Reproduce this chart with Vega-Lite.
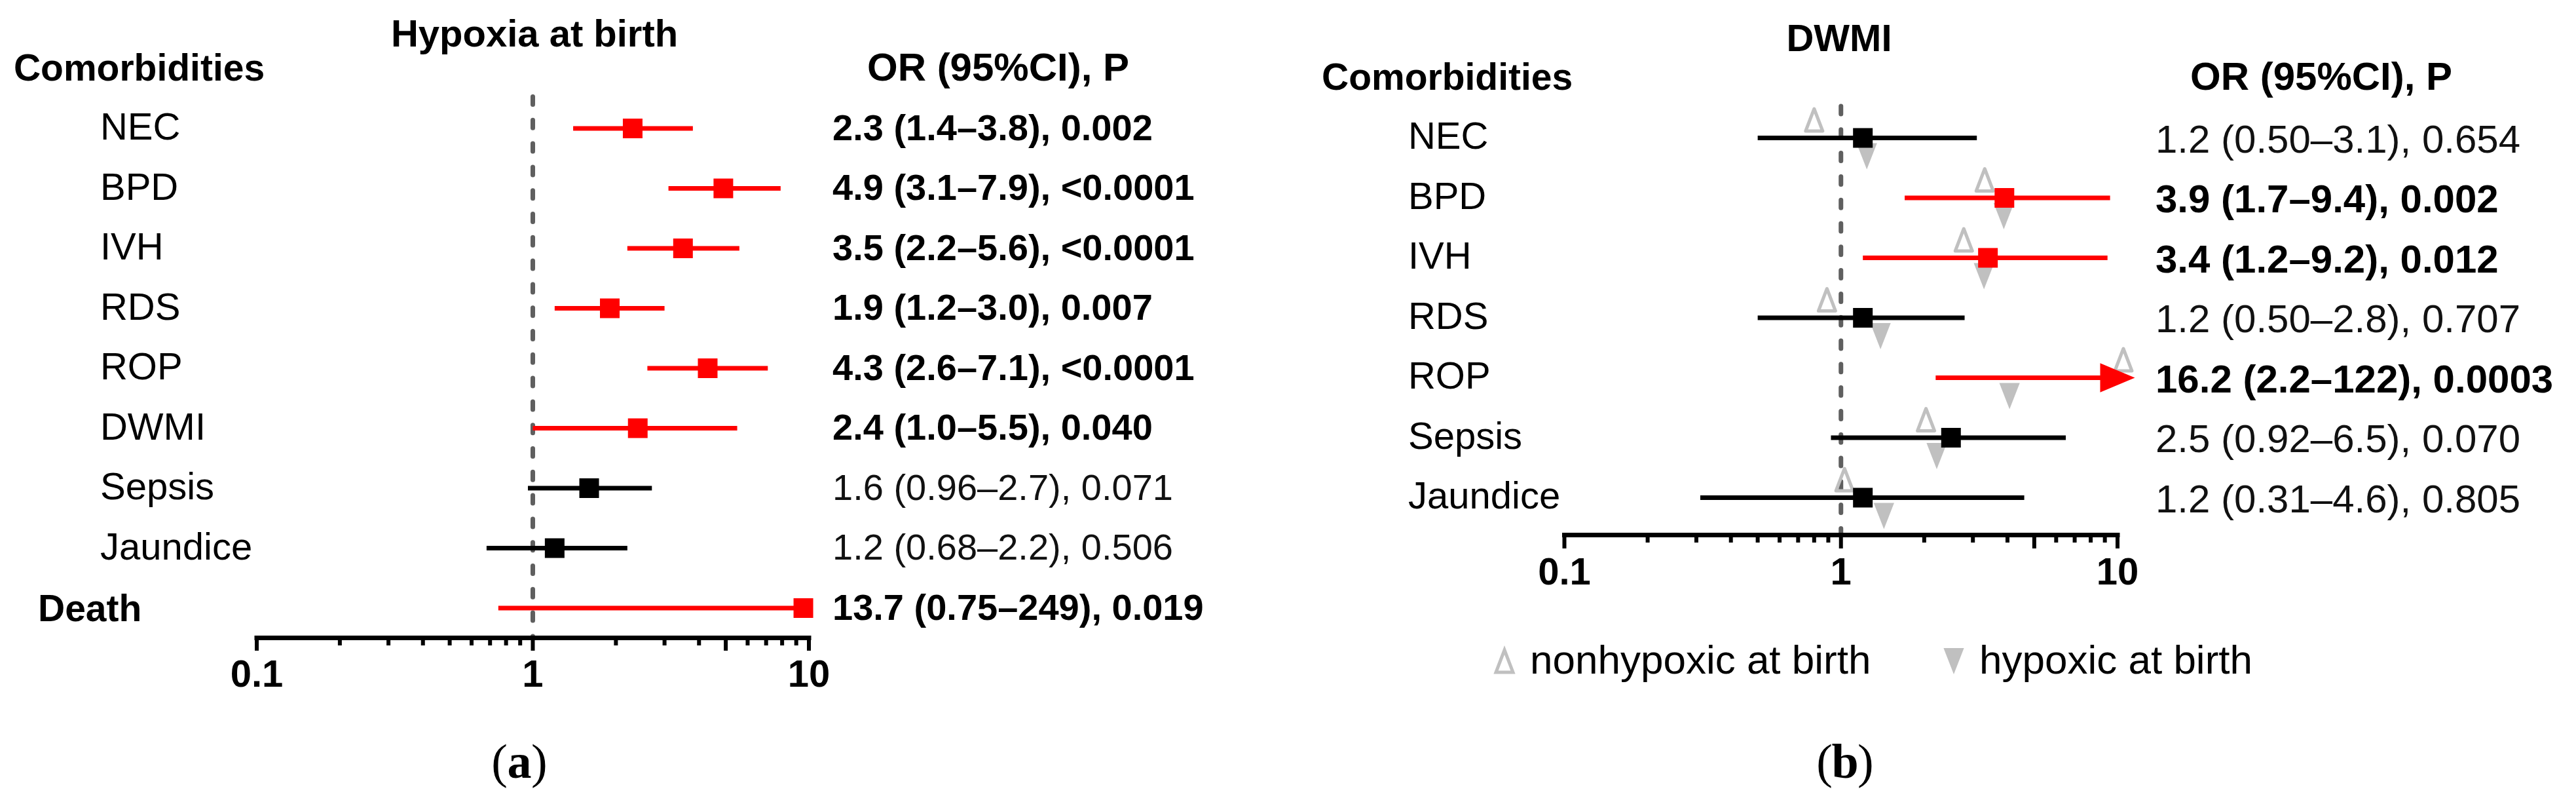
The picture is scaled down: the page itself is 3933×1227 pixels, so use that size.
{
  "$schema": "https://vega.github.io/schema/vega-lite/v6.json",
  "padding": 0,
  "spacing": 0,
  "background": "white",
  "config": {"view": {"stroke": null}, "font": "Liberation Sans", "concat": {"spacing": 0}},
  "resolve": {"scale": {"color": "independent", "shape": "independent", "fill": "independent", "stroke": "independent"}},
  "datasets": {
    "a": [
      {"label": "NEC", "row": 1, "or": 2.3, "lo": 1.4, "hi": 3.8, "or_plot": 2.3, "hi_plot": 3.8, "sig": "yes", "kind": "comorbidity", "text": "2.3 (1.4–3.8), 0.002"},
      {"label": "BPD", "row": 2, "or": 4.9, "lo": 3.1, "hi": 7.9, "or_plot": 4.9, "hi_plot": 7.9, "sig": "yes", "kind": "comorbidity", "text": "4.9 (3.1–7.9), <0.0001"},
      {"label": "IVH", "row": 3, "or": 3.5, "lo": 2.2, "hi": 5.6, "or_plot": 3.5, "hi_plot": 5.6, "sig": "yes", "kind": "comorbidity", "text": "3.5 (2.2–5.6), <0.0001"},
      {"label": "RDS", "row": 4, "or": 1.9, "lo": 1.2, "hi": 3.0, "or_plot": 1.9, "hi_plot": 3.0, "sig": "yes", "kind": "comorbidity", "text": "1.9 (1.2–3.0), 0.007"},
      {"label": "ROP", "row": 5, "or": 4.3, "lo": 2.6, "hi": 7.1, "or_plot": 4.3, "hi_plot": 7.1, "sig": "yes", "kind": "comorbidity", "text": "4.3 (2.6–7.1), <0.0001"},
      {"label": "DWMI", "row": 6, "or": 2.4, "lo": 1.0, "hi": 5.5, "or_plot": 2.4, "hi_plot": 5.5, "sig": "yes", "kind": "comorbidity", "text": "2.4 (1.0–5.5), 0.040"},
      {"label": "Sepsis", "row": 7, "or": 1.6, "lo": 0.96, "hi": 2.7, "or_plot": 1.6, "hi_plot": 2.7, "sig": "no", "kind": "comorbidity", "text": "1.6 (0.96–2.7), 0.071"},
      {"label": "Jaundice", "row": 8, "or": 1.2, "lo": 0.68, "hi": 2.2, "or_plot": 1.2, "hi_plot": 2.2, "sig": "no", "kind": "comorbidity", "text": "1.2 (0.68–2.2), 0.506"},
      {"label": "Death", "row": 9, "or": 13.7, "lo": 0.75, "hi": 249, "or_plot": 9.55, "hi_plot": 9.55, "sig": "yes", "kind": "outcome", "text": "13.7 (0.75–249), 0.019"}
    ],
    "b": [
      {"label": "NEC", "row": 1, "or": 1.2, "lo": 0.5, "hi": 3.1, "or_plot": 1.2, "hi_plot": 3.1, "sig": "no", "marker": "square", "text": "1.2 (0.50–3.1), 0.654"},
      {"label": "BPD", "row": 2, "or": 3.9, "lo": 1.7, "hi": 9.4, "or_plot": 3.9, "hi_plot": 9.4, "sig": "yes", "marker": "square", "text": "3.9 (1.7–9.4), 0.002"},
      {"label": "IVH", "row": 3, "or": 3.4, "lo": 1.2, "hi": 9.2, "or_plot": 3.4, "hi_plot": 9.2, "sig": "yes", "marker": "square", "text": "3.4 (1.2–9.2), 0.012"},
      {"label": "RDS", "row": 4, "or": 1.2, "lo": 0.5, "hi": 2.8, "or_plot": 1.2, "hi_plot": 2.8, "sig": "no", "marker": "square", "text": "1.2 (0.50–2.8), 0.707"},
      {"label": "ROP", "row": 5, "or": 16.2, "lo": 2.2, "hi": 122, "or_plot": 10, "hi_plot": 10, "sig": "yes", "marker": "arrow", "text": "16.2 (2.2–122), 0.0003"},
      {"label": "Sepsis", "row": 6, "or": 2.5, "lo": 0.92, "hi": 6.5, "or_plot": 2.5, "hi_plot": 6.5, "sig": "no", "marker": "square", "text": "2.5 (0.92–6.5), 0.070"},
      {"label": "Jaundice", "row": 7, "or": 1.2, "lo": 0.31, "hi": 4.6, "or_plot": 1.2, "hi_plot": 4.6, "sig": "no", "marker": "square", "text": "1.2 (0.31–4.6), 0.805"}
    ],
    "b_sub": [
      {"label": "NEC", "row": 1, "group": "nonhypoxic at birth", "or": 0.8},
      {"label": "NEC", "row": 1, "group": "hypoxic at birth", "or": 1.24},
      {"label": "BPD", "row": 2, "group": "nonhypoxic at birth", "or": 3.31},
      {"label": "BPD", "row": 2, "group": "hypoxic at birth", "or": 3.88},
      {"label": "IVH", "row": 3, "group": "nonhypoxic at birth", "or": 2.78},
      {"label": "IVH", "row": 3, "group": "hypoxic at birth", "or": 3.29},
      {"label": "RDS", "row": 4, "group": "nonhypoxic at birth", "or": 0.89},
      {"label": "RDS", "row": 4, "group": "hypoxic at birth", "or": 1.39},
      {"label": "ROP", "row": 5, "group": "nonhypoxic at birth", "or": 10.5},
      {"label": "ROP", "row": 5, "group": "hypoxic at birth", "or": 4.07},
      {"label": "Sepsis", "row": 6, "group": "nonhypoxic at birth", "or": 2.03},
      {"label": "Sepsis", "row": 6, "group": "hypoxic at birth", "or": 2.22},
      {"label": "Jaundice", "row": 7, "group": "nonhypoxic at birth", "or": 1.03},
      {"label": "Jaundice", "row": 7, "group": "hypoxic at birth", "or": 1.43}
    ],
    "ticks": [
      {"v": 0.2}, {"v": 0.3}, {"v": 0.4}, {"v": 0.5}, {"v": 0.6}, {"v": 0.7}, {"v": 0.8}, {"v": 0.9},
      {"v": 2}, {"v": 3}, {"v": 4}, {"v": 6}, {"v": 7}, {"v": 8}, {"v": 9}
    ],
    "major": [{"v": 0.1}, {"v": 1}, {"v": 5}, {"v": 10}]
  },
  "hconcat": [
    {
      "width": 1966,
      "height": 1227,
      "data": {"name": "a"},
      "layer": [
        {
          "data": {"values": [{"ref": 1}]},
          "mark": {"type": "rule", "strokeDash": [12, 23.8], "strokeCap": "round", "strokeWidth": 7, "color": "#5f5f5f"},
          "encoding": {
            "x": {"field": "ref", "type": "quantitative", "scale": {"type": "log", "domain": [0.011749, 542.43], "nice": false}, "axis": null},
            "y": {"datum": 0.46995, "type": "quantitative", "scale": {"domain": [-1.14208, 12.26776], "reverse": true, "nice": false, "zero": false}, "axis": null},
            "y2": {"datum": 9.49727}
          }
        },
        {
          "data": {"values": [{"from": 0.1, "to": 10}]},
          "mark": {"type": "rule", "strokeWidth": 7, "strokeCap": "square", "color": "#000000"},
          "encoding": {
            "x": {"field": "from", "type": "quantitative", "scale": {"type": "log", "domain": [0.011749, 542.43], "nice": false}, "axis": null},
            "x2": {"field": "to"},
            "y": {"datum": 9.49727, "type": "quantitative", "scale": {"domain": [-1.14208, 12.26776], "reverse": true, "nice": false, "zero": false}, "axis": null}
          }
        },
        {
          "data": {"name": "ticks"},
          "mark": {"type": "rule", "strokeWidth": 6, "color": "#000000"},
          "encoding": {
            "x": {"field": "v", "type": "quantitative", "scale": {"type": "log", "domain": [0.011749, 542.43], "nice": false}, "axis": null},
            "y": {"datum": 9.49727, "type": "quantitative", "scale": {"domain": [-1.14208, 12.26776], "reverse": true, "nice": false, "zero": false}, "axis": null},
            "y2": {"datum": 9.62295}
          }
        },
        {
          "data": {"name": "major"},
          "mark": {"type": "rule", "strokeWidth": 6, "color": "#000000"},
          "encoding": {
            "x": {"field": "v", "type": "quantitative", "scale": {"type": "log", "domain": [0.011749, 542.43], "nice": false}, "axis": null},
            "y": {"datum": 9.49727, "type": "quantitative", "scale": {"domain": [-1.14208, 12.26776], "reverse": true, "nice": false, "zero": false}, "axis": null},
            "y2": {"datum": 9.71038}
          }
        },
        {
          "data": {"name": "major"},
          "transform": [{"filter": "datum.v != 5"}],
          "mark": {"type": "text", "align": "center", "baseline": "alphabetic", "fontSize": 58, "fontWeight": "bold", "color": "#000000"},
          "encoding": {
            "x": {"field": "v", "type": "quantitative", "scale": {"type": "log", "domain": [0.011749, 542.43], "nice": false}, "axis": null},
            "y": {"datum": 10.31148, "type": "quantitative", "scale": {"domain": [-1.14208, 12.26776], "reverse": true, "nice": false, "zero": false}, "axis": null},
            "text": {"field": "v", "type": "quantitative", "format": "~g"}
          }
        },
        {
          "mark": {"type": "rule", "strokeWidth": 7},
          "encoding": {
            "x": {"field": "lo", "type": "quantitative", "scale": {"type": "log", "domain": [0.011749, 542.43], "nice": false}, "axis": null},
            "x2": {"field": "hi_plot"},
            "y": {"field": "row", "type": "quantitative", "scale": {"domain": [-1.14208, 12.26776], "reverse": true, "nice": false, "zero": false}, "axis": null},
            "color": {"field": "sig", "type": "nominal", "scale": {"domain": ["no", "yes"], "range": ["#000000", "#ff0000"]}, "legend": null}
          }
        },
        {
          "mark": {"type": "point", "shape": "square", "size": 900, "filled": true, "opacity": 1},
          "encoding": {
            "x": {"field": "or_plot", "type": "quantitative", "scale": {"type": "log", "domain": [0.011749, 542.43], "nice": false}, "axis": null},
            "y": {"field": "row", "type": "quantitative", "scale": {"domain": [-1.14208, 12.26776], "reverse": true, "nice": false, "zero": false}, "axis": null},
            "color": {"field": "sig", "type": "nominal", "scale": {"domain": ["no", "yes"], "range": ["#000000", "#ff0000"]}, "legend": null}
          }
        },
        {
          "transform": [{"filter": "datum.kind == 'comorbidity'"}],
          "mark": {"type": "text", "align": "left", "baseline": "alphabetic", "dy": 17, "fontSize": 58, "color": "#000000"},
          "encoding": {
            "x": {"datum": 0.027097, "type": "quantitative", "scale": {"type": "log", "domain": [0.011749, 542.43], "nice": false}, "axis": null},
            "y": {"field": "row", "type": "quantitative", "scale": {"domain": [-1.14208, 12.26776], "reverse": true, "nice": false, "zero": false}, "axis": null},
            "text": {"field": "label"}
          }
        },
        {
          "transform": [{"filter": "datum.kind == 'outcome'"}],
          "mark": {"type": "text", "align": "left", "baseline": "alphabetic", "dy": 20, "fontSize": 57, "fontWeight": "bold", "color": "#000000"},
          "encoding": {
            "x": {"datum": 0.016126, "type": "quantitative", "scale": {"type": "log", "domain": [0.011749, 542.43], "nice": false}, "axis": null},
            "y": {"field": "row", "type": "quantitative", "scale": {"domain": [-1.14208, 12.26776], "reverse": true, "nice": false, "zero": false}, "axis": null},
            "text": {"field": "label"}
          }
        },
        {
          "transform": [{"filter": "datum.sig == 'yes'"}],
          "mark": {"type": "text", "align": "left", "baseline": "alphabetic", "dy": 17.5, "fontSize": 56, "fontWeight": "bold", "color": "#000000"},
          "encoding": {
            "x": {"datum": 12.174, "type": "quantitative", "scale": {"type": "log", "domain": [0.011749, 542.43], "nice": false}, "axis": null},
            "y": {"field": "row", "type": "quantitative", "scale": {"domain": [-1.14208, 12.26776], "reverse": true, "nice": false, "zero": false}, "axis": null},
            "text": {"field": "text"}
          }
        },
        {
          "transform": [{"filter": "datum.sig == 'no'"}],
          "mark": {"type": "text", "align": "left", "baseline": "alphabetic", "dy": 17.5, "fontSize": 56, "color": "#111111"},
          "encoding": {
            "x": {"datum": 12.174, "type": "quantitative", "scale": {"type": "log", "domain": [0.011749, 542.43], "nice": false}, "axis": null},
            "y": {"field": "row", "type": "quantitative", "scale": {"domain": [-1.14208, 12.26776], "reverse": true, "nice": false, "zero": false}, "axis": null},
            "text": {"field": "text"}
          }
        },
        {
          "data": {"values": [{"t": "Hypoxia at birth"}]},
          "mark": {"type": "text", "align": "center", "baseline": "alphabetic", "fontSize": 58, "fontWeight": "bold", "color": "#000000"},
          "encoding": {
            "x": {"datum": 1.014, "type": "quantitative", "scale": {"type": "log", "domain": [0.011749, 542.43], "nice": false}, "axis": null},
            "y": {"datum": -0.36612, "type": "quantitative", "scale": {"domain": [-1.14208, 12.26776], "reverse": true, "nice": false, "zero": false}, "axis": null},
            "text": {"field": "t"}
          }
        },
        {
          "data": {"values": [{"t": "Comorbidities"}]},
          "mark": {"type": "text", "align": "left", "baseline": "alphabetic", "fontSize": 57, "fontWeight": "bold", "color": "#000000"},
          "encoding": {
            "x": {"datum": 0.013174, "type": "quantitative", "scale": {"type": "log", "domain": [0.011749, 542.43], "nice": false}, "axis": null},
            "y": {"datum": 0.20219, "type": "quantitative", "scale": {"domain": [-1.14208, 12.26776], "reverse": true, "nice": false, "zero": false}, "axis": null},
            "text": {"field": "t"}
          }
        },
        {
          "data": {"values": [{"t": "OR (95%CI), P"}]},
          "mark": {"type": "text", "align": "left", "baseline": "alphabetic", "fontSize": 60, "fontWeight": "bold", "color": "#000000"},
          "encoding": {
            "x": {"datum": 16.259, "type": "quantitative", "scale": {"type": "log", "domain": [0.011749, 542.43], "nice": false}, "axis": null},
            "y": {"datum": 0.20219, "type": "quantitative", "scale": {"domain": [-1.14208, 12.26776], "reverse": true, "nice": false, "zero": false}, "axis": null},
            "text": {"field": "t"}
          }
        },
        {
          "data": {"values": [{"t": "("}]},
          "mark": {"type": "text", "align": "right", "baseline": "alphabetic", "dx": -18, "fontSize": 74, "font": "Liberation Serif", "color": "#000000"},
          "encoding": {
            "x": {"datum": 0.894, "type": "quantitative", "scale": {"type": "log", "domain": [0.011749, 542.43], "nice": false}, "axis": null},
            "y": {"datum": 11.8306, "type": "quantitative", "scale": {"domain": [-1.14208, 12.26776], "reverse": true, "nice": false, "zero": false}, "axis": null},
            "text": {"field": "t"}
          }
        },
        {
          "data": {"values": [{"t": "a"}]},
          "mark": {"type": "text", "align": "center", "baseline": "alphabetic", "fontSize": 74, "font": "Liberation Serif", "fontWeight": "bold", "color": "#000000"},
          "encoding": {
            "x": {"datum": 0.894, "type": "quantitative", "scale": {"type": "log", "domain": [0.011749, 542.43], "nice": false}, "axis": null},
            "y": {"datum": 11.8306, "type": "quantitative", "scale": {"domain": [-1.14208, 12.26776], "reverse": true, "nice": false, "zero": false}, "axis": null},
            "text": {"field": "t"}
          }
        },
        {
          "data": {"values": [{"t": ")"}]},
          "mark": {"type": "text", "align": "left", "baseline": "alphabetic", "dx": 18, "fontSize": 74, "font": "Liberation Serif", "color": "#000000"},
          "encoding": {
            "x": {"datum": 0.894, "type": "quantitative", "scale": {"type": "log", "domain": [0.011749, 542.43], "nice": false}, "axis": null},
            "y": {"datum": 11.8306, "type": "quantitative", "scale": {"domain": [-1.14208, 12.26776], "reverse": true, "nice": false, "zero": false}, "axis": null},
            "text": {"field": "t"}
          }
        }
      ]
    },
    {
      "width": 1967,
      "height": 1227,
      "data": {"name": "b"},
      "layer": [
        {
          "data": {"values": [{"ref": 1}]},
          "mark": {"type": "rule", "strokeDash": [12, 23.8], "strokeCap": "round", "strokeWidth": 7, "color": "#5f5f5f"},
          "encoding": {
            "x": {"field": "ref", "type": "quantitative", "scale": {"type": "log", "domain": [0.0099864, 454.8], "nice": false}, "axis": null},
            "y": {"datum": 0.46995, "type": "quantitative", "scale": {"domain": [-1.30055, 12.10929], "reverse": true, "nice": false, "zero": false}, "axis": null},
            "y2": {"datum": 7.62295}
          }
        },
        {
          "data": {"values": [{"from": 0.1, "to": 10}]},
          "mark": {"type": "rule", "strokeWidth": 7, "strokeCap": "square", "color": "#000000"},
          "encoding": {
            "x": {"field": "from", "type": "quantitative", "scale": {"type": "log", "domain": [0.0099864, 454.8], "nice": false}, "axis": null},
            "x2": {"field": "to"},
            "y": {"datum": 7.62295, "type": "quantitative", "scale": {"domain": [-1.30055, 12.10929], "reverse": true, "nice": false, "zero": false}, "axis": null}
          }
        },
        {
          "data": {"name": "ticks"},
          "mark": {"type": "rule", "strokeWidth": 6, "color": "#000000"},
          "encoding": {
            "x": {"field": "v", "type": "quantitative", "scale": {"type": "log", "domain": [0.0099864, 454.8], "nice": false}, "axis": null},
            "y": {"datum": 7.62295, "type": "quantitative", "scale": {"domain": [-1.30055, 12.10929], "reverse": true, "nice": false, "zero": false}, "axis": null},
            "y2": {"datum": 7.74863}
          }
        },
        {
          "data": {"name": "major"},
          "mark": {"type": "rule", "strokeWidth": 6, "color": "#000000"},
          "encoding": {
            "x": {"field": "v", "type": "quantitative", "scale": {"type": "log", "domain": [0.0099864, 454.8], "nice": false}, "axis": null},
            "y": {"datum": 7.62295, "type": "quantitative", "scale": {"domain": [-1.30055, 12.10929], "reverse": true, "nice": false, "zero": false}, "axis": null},
            "y2": {"datum": 7.84699}
          }
        },
        {
          "data": {"name": "major"},
          "transform": [{"filter": "datum.v != 5"}],
          "mark": {"type": "text", "align": "center", "baseline": "alphabetic", "fontSize": 58, "fontWeight": "bold", "color": "#000000"},
          "encoding": {
            "x": {"field": "v", "type": "quantitative", "scale": {"type": "log", "domain": [0.0099864, 454.8], "nice": false}, "axis": null},
            "y": {"datum": 8.44809, "type": "quantitative", "scale": {"domain": [-1.30055, 12.10929], "reverse": true, "nice": false, "zero": false}, "axis": null},
            "text": {"field": "v", "type": "quantitative", "format": "~g"}
          }
        },
        {
          "data": {"name": "b_sub"},
          "transform": [{"filter": "datum.group == 'nonhypoxic at birth'"}],
          "mark": {"type": "point", "size": 1600, "strokeWidth": 5, "strokeJoin": "round", "opacity": 1, "yOffset": -27.5},
          "encoding": {
            "x": {"field": "or", "type": "quantitative", "scale": {"type": "log", "domain": [0.0099864, 454.8], "nice": false}, "axis": null},
            "y": {"field": "row", "type": "quantitative", "scale": {"domain": [-1.30055, 12.10929], "reverse": true, "nice": false, "zero": false}, "axis": null},
            "shape": {"field": "group", "type": "nominal", "scale": {"domain": ["nonhypoxic at birth", "hypoxic at birth"], "range": ["M0,-0.85L0.65,0.85L-0.65,0.85Z", "M-0.78,-1L0.78,-1L0,1Z"]},
              "legend": {"title": null, "orient": "none", "legendX": 300, "legendY": 978, "direction": "horizontal", "columns": 2, "columnPadding": 95, "labelFontSize": 62, "labelFont": "Liberation Sans", "labelColor": "#000000", "labelLimit": 2000, "labelOffset": 8, "symbolSize": 1600, "symbolStrokeWidth": 5, "symbolOpacity": 1, "padding": 0}},
            "fill": {"field": "group", "type": "nominal", "scale": {"domain": ["nonhypoxic at birth", "hypoxic at birth"], "range": ["transparent", "#c0c0c0"]},
              "legend": {"title": null, "orient": "none", "legendX": 300, "legendY": 978, "direction": "horizontal", "columns": 2, "columnPadding": 95, "labelFontSize": 62, "labelFont": "Liberation Sans", "labelColor": "#000000", "labelLimit": 2000, "labelOffset": 8, "symbolSize": 1600, "symbolStrokeWidth": 5, "symbolOpacity": 1, "padding": 0}},
            "stroke": {"field": "group", "type": "nominal", "scale": {"domain": ["nonhypoxic at birth", "hypoxic at birth"], "range": ["#c0c0c0", "transparent"]},
              "legend": {"title": null, "orient": "none", "legendX": 300, "legendY": 978, "direction": "horizontal", "columns": 2, "columnPadding": 95, "labelFontSize": 62, "labelFont": "Liberation Sans", "labelColor": "#000000", "labelLimit": 2000, "labelOffset": 8, "symbolSize": 1600, "symbolStrokeWidth": 5, "symbolOpacity": 1, "padding": 0}}
          }
        },
        {
          "data": {"name": "b_sub"},
          "transform": [{"filter": "datum.group == 'hypoxic at birth'"}],
          "mark": {"type": "point", "size": 1600, "strokeWidth": 5, "strokeJoin": "round", "opacity": 1, "yOffset": 28},
          "encoding": {
            "x": {"field": "or", "type": "quantitative", "scale": {"type": "log", "domain": [0.0099864, 454.8], "nice": false}, "axis": null},
            "y": {"field": "row", "type": "quantitative", "scale": {"domain": [-1.30055, 12.10929], "reverse": true, "nice": false, "zero": false}, "axis": null},
            "shape": {"field": "group", "type": "nominal", "scale": {"domain": ["nonhypoxic at birth", "hypoxic at birth"], "range": ["M0,-0.85L0.65,0.85L-0.65,0.85Z", "M-0.78,-1L0.78,-1L0,1Z"]},
              "legend": {"title": null, "orient": "none", "legendX": 300, "legendY": 978, "direction": "horizontal", "columns": 2, "columnPadding": 95, "labelFontSize": 62, "labelFont": "Liberation Sans", "labelColor": "#000000", "labelLimit": 2000, "labelOffset": 8, "symbolSize": 1600, "symbolStrokeWidth": 5, "symbolOpacity": 1, "padding": 0}},
            "fill": {"field": "group", "type": "nominal", "scale": {"domain": ["nonhypoxic at birth", "hypoxic at birth"], "range": ["transparent", "#c0c0c0"]},
              "legend": {"title": null, "orient": "none", "legendX": 300, "legendY": 978, "direction": "horizontal", "columns": 2, "columnPadding": 95, "labelFontSize": 62, "labelFont": "Liberation Sans", "labelColor": "#000000", "labelLimit": 2000, "labelOffset": 8, "symbolSize": 1600, "symbolStrokeWidth": 5, "symbolOpacity": 1, "padding": 0}},
            "stroke": {"field": "group", "type": "nominal", "scale": {"domain": ["nonhypoxic at birth", "hypoxic at birth"], "range": ["#c0c0c0", "transparent"]},
              "legend": {"title": null, "orient": "none", "legendX": 300, "legendY": 978, "direction": "horizontal", "columns": 2, "columnPadding": 95, "labelFontSize": 62, "labelFont": "Liberation Sans", "labelColor": "#000000", "labelLimit": 2000, "labelOffset": 8, "symbolSize": 1600, "symbolStrokeWidth": 5, "symbolOpacity": 1, "padding": 0}}
          }
        },
        {
          "mark": {"type": "rule", "strokeWidth": 7},
          "encoding": {
            "x": {"field": "lo", "type": "quantitative", "scale": {"type": "log", "domain": [0.0099864, 454.8], "nice": false}, "axis": null},
            "x2": {"field": "hi_plot"},
            "y": {"field": "row", "type": "quantitative", "scale": {"domain": [-1.30055, 12.10929], "reverse": true, "nice": false, "zero": false}, "axis": null},
            "color": {"field": "sig", "type": "nominal", "scale": {"domain": ["no", "yes"], "range": ["#000000", "#ff0000"]}, "legend": null}
          }
        },
        {
          "transform": [{"filter": "datum.marker == 'square'"}],
          "mark": {"type": "point", "shape": "square", "size": 900, "filled": true, "opacity": 1},
          "encoding": {
            "x": {"field": "or_plot", "type": "quantitative", "scale": {"type": "log", "domain": [0.0099864, 454.8], "nice": false}, "axis": null},
            "y": {"field": "row", "type": "quantitative", "scale": {"domain": [-1.30055, 12.10929], "reverse": true, "nice": false, "zero": false}, "axis": null},
            "color": {"field": "sig", "type": "nominal", "scale": {"domain": ["no", "yes"], "range": ["#000000", "#ff0000"]}, "legend": null}
          }
        },
        {
          "transform": [{"filter": "datum.marker == 'arrow'"}],
          "mark": {"type": "point", "shape": "M-1,-0.84L1,0L-1,0.84Z", "size": 2809, "filled": true, "opacity": 1},
          "encoding": {
            "x": {"field": "or_plot", "type": "quantitative", "scale": {"type": "log", "domain": [0.0099864, 454.8], "nice": false}, "axis": null},
            "y": {"field": "row", "type": "quantitative", "scale": {"domain": [-1.30055, 12.10929], "reverse": true, "nice": false, "zero": false}, "axis": null},
            "color": {"field": "sig", "type": "nominal", "scale": {"domain": ["no", "yes"], "range": ["#000000", "#ff0000"]}, "legend": null}
          }
        },
        {
          "mark": {"type": "text", "align": "left", "baseline": "alphabetic", "dy": 16.5, "fontSize": 58, "color": "#000000"},
          "encoding": {
            "x": {"datum": 0.027234, "type": "quantitative", "scale": {"type": "log", "domain": [0.0099864, 454.8], "nice": false}, "axis": null},
            "y": {"field": "row", "type": "quantitative", "scale": {"domain": [-1.30055, 12.10929], "reverse": true, "nice": false, "zero": false}, "axis": null},
            "text": {"field": "label"}
          }
        },
        {
          "transform": [{"filter": "datum.sig == 'yes'"}],
          "mark": {"type": "text", "align": "left", "baseline": "alphabetic", "dy": 22, "fontSize": 60, "fontWeight": "bold", "color": "#000000"},
          "encoding": {
            "x": {"datum": 13.72, "type": "quantitative", "scale": {"type": "log", "domain": [0.0099864, 454.8], "nice": false}, "axis": null},
            "y": {"field": "row", "type": "quantitative", "scale": {"domain": [-1.30055, 12.10929], "reverse": true, "nice": false, "zero": false}, "axis": null},
            "text": {"field": "text"}
          }
        },
        {
          "transform": [{"filter": "datum.sig == 'no'"}],
          "mark": {"type": "text", "align": "left", "baseline": "alphabetic", "dy": 22, "fontSize": 60, "color": "#111111"},
          "encoding": {
            "x": {"datum": 13.72, "type": "quantitative", "scale": {"type": "log", "domain": [0.0099864, 454.8], "nice": false}, "axis": null},
            "y": {"field": "row", "type": "quantitative", "scale": {"domain": [-1.30055, 12.10929], "reverse": true, "nice": false, "zero": false}, "axis": null},
            "text": {"field": "text"}
          }
        },
        {
          "data": {"values": [{"t": "DWMI"}]},
          "mark": {"type": "text", "align": "center", "baseline": "alphabetic", "fontSize": 58, "fontWeight": "bold", "color": "#000000"},
          "encoding": {
            "x": {"datum": 0.98512, "type": "quantitative", "scale": {"type": "log", "domain": [0.0099864, 454.8], "nice": false}, "axis": null},
            "y": {"datum": -0.44809, "type": "quantitative", "scale": {"domain": [-1.30055, 12.10929], "reverse": true, "nice": false, "zero": false}, "axis": null},
            "text": {"field": "t"}
          }
        },
        {
          "data": {"values": [{"t": "Comorbidities"}]},
          "mark": {"type": "text", "align": "left", "baseline": "alphabetic", "fontSize": 57, "fontWeight": "bold", "color": "#000000"},
          "encoding": {
            "x": {"datum": 0.013261, "type": "quantitative", "scale": {"type": "log", "domain": [0.0099864, 454.8], "nice": false}, "axis": null},
            "y": {"datum": 0.19672, "type": "quantitative", "scale": {"domain": [-1.30055, 12.10929], "reverse": true, "nice": false, "zero": false}, "axis": null},
            "text": {"field": "t"}
          }
        },
        {
          "data": {"values": [{"t": "OR (95%CI), P"}]},
          "mark": {"type": "text", "align": "left", "baseline": "alphabetic", "fontSize": 60, "fontWeight": "bold", "color": "#000000"},
          "encoding": {
            "x": {"datum": 18.32, "type": "quantitative", "scale": {"type": "log", "domain": [0.0099864, 454.8], "nice": false}, "axis": null},
            "y": {"datum": 0.19672, "type": "quantitative", "scale": {"domain": [-1.30055, 12.10929], "reverse": true, "nice": false, "zero": false}, "axis": null},
            "text": {"field": "t"}
          }
        },
        {
          "data": {"values": [{"t": "("}]},
          "mark": {"type": "text", "align": "right", "baseline": "alphabetic", "dx": -19, "fontSize": 74, "font": "Liberation Serif", "color": "#000000"},
          "encoding": {
            "x": {"datum": 1.0347, "type": "quantitative", "scale": {"type": "log", "domain": [0.0099864, 454.8], "nice": false}, "axis": null},
            "y": {"datum": 11.6721, "type": "quantitative", "scale": {"domain": [-1.30055, 12.10929], "reverse": true, "nice": false, "zero": false}, "axis": null},
            "text": {"field": "t"}
          }
        },
        {
          "data": {"values": [{"t": "b"}]},
          "mark": {"type": "text", "align": "center", "baseline": "alphabetic", "fontSize": 74, "font": "Liberation Serif", "fontWeight": "bold", "color": "#000000"},
          "encoding": {
            "x": {"datum": 1.0347, "type": "quantitative", "scale": {"type": "log", "domain": [0.0099864, 454.8], "nice": false}, "axis": null},
            "y": {"datum": 11.6721, "type": "quantitative", "scale": {"domain": [-1.30055, 12.10929], "reverse": true, "nice": false, "zero": false}, "axis": null},
            "text": {"field": "t"}
          }
        },
        {
          "data": {"values": [{"t": ")"}]},
          "mark": {"type": "text", "align": "left", "baseline": "alphabetic", "dx": 19, "fontSize": 74, "font": "Liberation Serif", "color": "#000000"},
          "encoding": {
            "x": {"datum": 1.0347, "type": "quantitative", "scale": {"type": "log", "domain": [0.0099864, 454.8], "nice": false}, "axis": null},
            "y": {"datum": 11.6721, "type": "quantitative", "scale": {"domain": [-1.30055, 12.10929], "reverse": true, "nice": false, "zero": false}, "axis": null},
            "text": {"field": "t"}
          }
        }
      ]
    }
  ]
}
